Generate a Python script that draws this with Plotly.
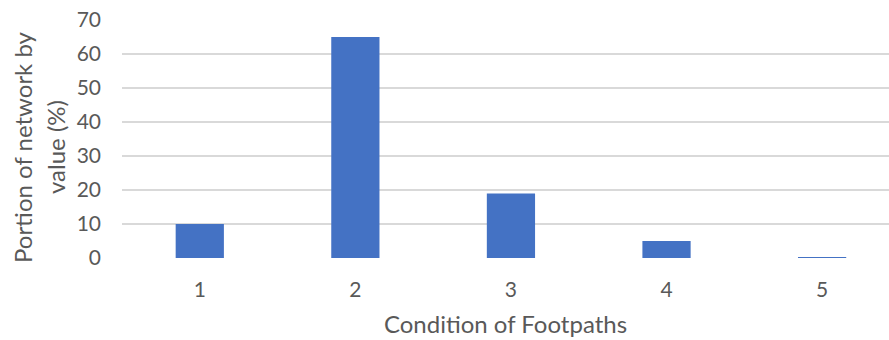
import plotly.graph_objects as go

# Footpath condition grades and share of network value (%)
conditions = ["1", "2", "3", "4", "5"]
portion_pct = [10, 65, 19, 5, 0.1]
y_ticks = [0, 10, 20, 30, 40, 50, 60, 70]

FONT = "Lato, 'Open Sans', sans-serif"
GREY = "#595959"

fig = go.Figure(
    go.Bar(
        x=[1, 2, 3, 4, 5],
        y=portion_pct,
        marker=dict(color="#4472C4", line=dict(width=0)),
        width=0.31,
        hoverinfo="x+y",
    )
)

fig.update_layout(
    width=889,
    height=340,
    margin=dict(l=122, r=0, t=20, b=82),
    paper_bgcolor="white",
    plot_bgcolor="white",
    showlegend=False,
    font=dict(family=FONT, size=21, color=GREY),
)

fig.update_xaxes(
    range=[0.5, 5.43],
    tickmode="array",
    tickvals=[1, 2, 3, 4, 5],
    ticktext=conditions,
    showgrid=False,
    zeroline=False,
    showline=False,
    ticks="",
    ticklen=0,
    ticklabelstandoff=17,
    tickfont=dict(size=21, color=GREY),
    title=dict(text="Condition of Footpaths", font=dict(size=24, color=GREY), standoff=16),
)

fig.update_yaxes(
    range=[0, 70],
    tickmode="array",
    tickvals=y_ticks,
    showgrid=True,
    gridcolor="#d9d9d9",
    gridwidth=1.5,
    zeroline=False,
    showline=False,
    ticks="",
    ticklabelstandoff=20,
    tickfont=dict(size=21, color=GREY),
)

# Two-line y-axis title with wide line spacing
y_title_lines = ["Portion of network by", "value (%)"]
for line, xpix in zip(y_title_lines, [22, 55]):
    fig.add_annotation(
        text=line, textangle=-90,
        xref="paper", yref="paper", x=-122 / 767, y=0.5,
        xanchor="center", yanchor="middle",
        xshift=xpix, yshift=-8, showarrow=False,
        font=dict(size=24, color=GREY),
    )

fig.write_html("out.html")
